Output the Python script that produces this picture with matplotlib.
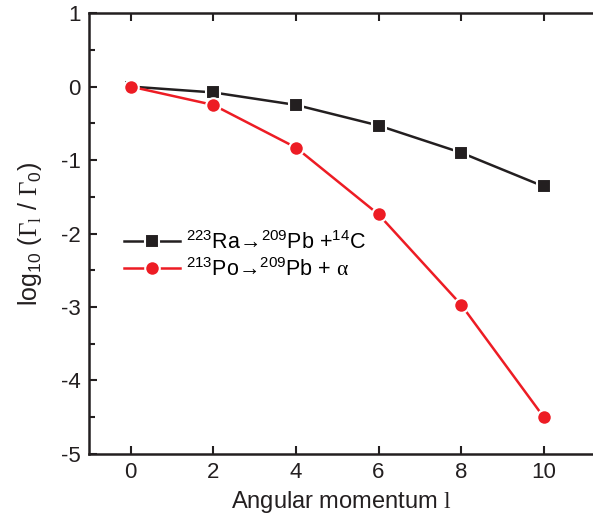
import matplotlib
matplotlib.use("Agg")
import matplotlib.pyplot as plt
from matplotlib.ticker import MultipleLocator

plt.rcParams['font.family'] = ['Liberation Sans', 'DejaVu Sans']
plt.rcParams['axes.unicode_minus'] = False
plt.rcParams['mathtext.fontset'] = 'custom'
plt.rcParams['mathtext.rm'] = 'Liberation Sans'
plt.rcParams['mathtext.it'] = 'Liberation Sans:italic'
plt.rcParams['mathtext.sf'] = 'Liberation Serif'

# Momento angular y cocientes de anchura
l_vals = [0, 2, 4, 6, 8, 10]
ra_c14 = [0.0, -0.08, -0.25, -0.53, -0.90, -1.36]
po_alpha = [0.0, -0.25, -0.83, -1.74, -2.97, -4.50]

lbl_ra = r'$^{223}$Ra→$^{209}$Pb +$^{14}$C'
lbl_po = r'$^{213}$Po→$^{209}$Pb + $\mathsf{\alpha}$'

fig = plt.figure(figsize=(5.93, 5.23), dpi=100)
ax = fig.add_axes([0.1506, 0.132, 0.8494, 0.843])

ax.plot(l_vals, ra_c14, color='#231f20', lw=1.8, marker='s', ms=9.5,
        mec='white', mew=1.5, label=lbl_ra, zorder=3)
ax.plot(l_vals, po_alpha, color='#ed1c24', lw=1.8, marker='o', ms=10.5,
        mec='white', mew=1.5, label=lbl_po, zorder=4)

ax.set_xlim(-1, 11.19)
ax.set_ylim(-5, 1)
ax.xaxis.set_major_locator(MultipleLocator(2))
ax.yaxis.set_major_locator(MultipleLocator(1))
ax.yaxis.set_minor_locator(MultipleLocator(0.5))
ax.tick_params(which='both', direction='in', top=True, right=False,
               labelsize=16, width=1.5, pad=6, colors='#231f20')
ax.tick_params(which='major', length=6)
ax.tick_params(which='minor', length=4)
ax.spines['right'].set_visible(False)
for s in ['left', 'bottom', 'top']:
    ax.spines[s].set_linewidth(1.8)
    ax.spines[s].set_color('#231f20')

ax.set_xlabel(r'Angular momentum $\mathsf{l}$', fontsize=17, labelpad=4,
              color='#231f20')
ax.set_ylabel(r'log$_{10}$ ($\mathsf{\Gamma}_{\mathsf{l}}$ / $\mathsf{\Gamma}_{0}$)',
              fontsize=18, labelpad=12, color='#231f20')

ax.legend(loc='upper left', bbox_to_anchor=(0.03, 0.55), frameon=False,
          fontsize=15.5, handlelength=2.6, handletextpad=0.3, labelspacing=0.2)

fig.savefig('out.png', dpi=100)
